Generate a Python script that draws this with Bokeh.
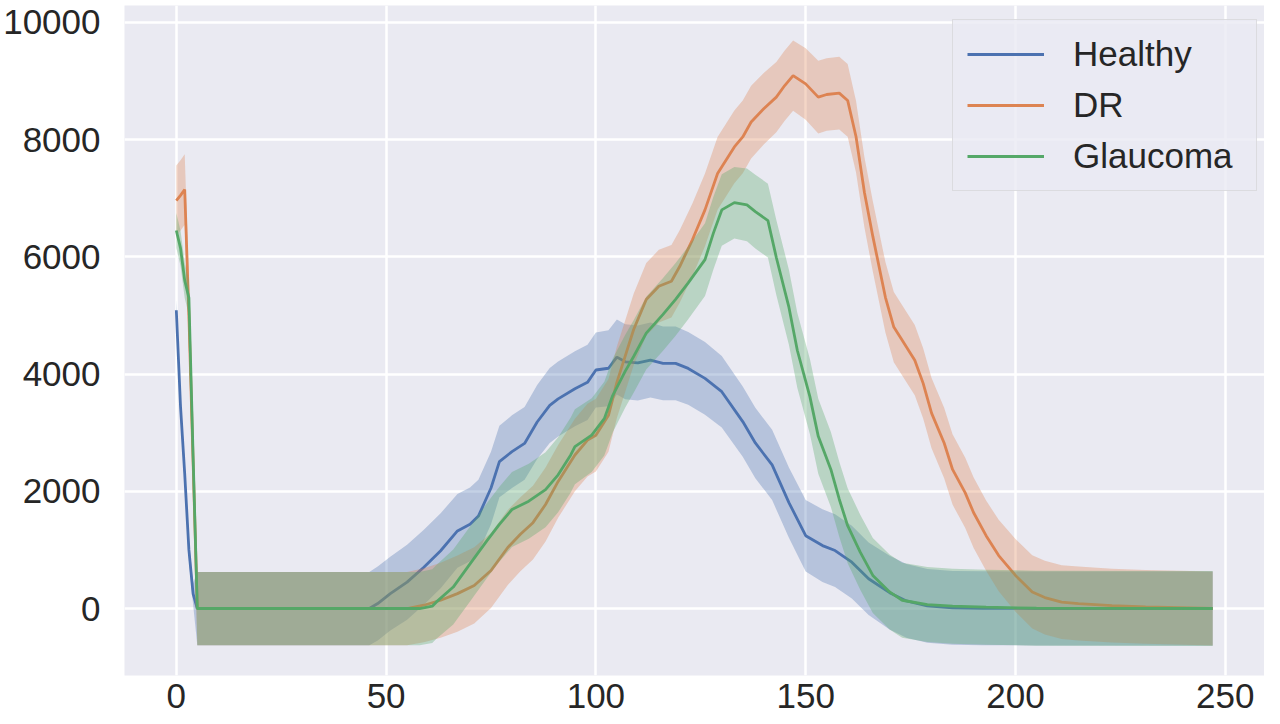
from bokeh.embed import file_html
from bokeh.models import Legend, LegendItem, Range1d, SingleIntervalTicker
from bokeh.plotting import figure
from bokeh.resources import INLINE

# mean curves (x = bin index), sd = half width of the shaded band
healthy_x = [0, 1, 2, 3, 4, 5, 30, 46, 48, 51, 55, 59, 63, 67, 70, 72, 75, 77, 80, 83, 86, 89, 91, 95, 98, 100,
             103, 105, 107, 110, 113, 116, 119, 122, 126, 130, 135, 138, 142, 146, 150, 154, 157, 161, 165, 170,
             174, 179, 185, 192, 205, 247]
healthy_y = [5090, 3450, 2300, 1000, 250, 0, 0, 0, 85, 254, 450, 704, 986, 1324, 1437, 1577, 2056, 2507, 2676, 2817,
             3183, 3465, 3577, 3750, 3859, 4070, 4100, 4290, 4210, 4190, 4240, 4183, 4183, 4097, 3927, 3700, 3190,
             2825, 2450, 1808, 1243, 1074, 989, 791, 508, 270, 130, 45, 11, 4, 0, 0]
healthy_sd = [180, 180, 180, 180, 180, 625, 625, 625, 630, 630, 640, 640, 640, 630, 630, 620, 620, 610, 620, 620,
              630, 640, 640, 640, 640, 640, 650, 640, 640, 640, 640, 630, 630, 620, 620, 610, 600, 600, 600, 600,
              610, 620, 620, 620, 620, 630, 630, 630, 630, 630, 630, 630]

dr_x = [0, 1, 2, 3, 4, 5, 30, 55, 59, 63, 67, 71, 75, 79, 82, 85, 88, 91, 95, 98, 100, 103, 105, 107, 109, 112,
        115, 118, 120, 123, 126, 129, 133, 135, 137, 140, 143, 145, 147, 150, 153, 155, 158, 160, 162, 164, 166,
        169, 171, 173, 176, 178, 180, 183, 185, 188, 190, 193, 196, 200, 204, 207, 211, 215, 223, 231, 247]
dr_y = [6960, 7050, 7150, 5000, 2500, 0, 0, 0, 56, 141, 254, 394, 648, 1042, 1268, 1465, 1775, 2169, 2620, 2873,
        2958, 3296, 3860, 4310, 4761, 5274, 5500, 5585, 5840, 6292, 6802, 7424, 7877, 8047, 8301, 8528, 8726,
        8924, 9094, 8952, 8726, 8771, 8794, 8670, 8050, 7100, 6350, 5311, 4803, 4577, 4238, 3842, 3334, 2825,
        2373, 1978, 1639, 1243, 904, 565, 283, 187, 110, 85, 50, 28, 0]
dr_sd = [600, 600, 600, 600, 600, 625, 625, 625, 630, 640, 650, 650, 640, 640, 630, 630, 630, 620, 620, 620,
         620, 620, 610, 610, 610, 620, 620, 620, 620, 620, 620, 620, 620, 620, 620, 610, 600, 600, 600, 610,
         620, 620, 620, 620, 610, 600, 600, 600, 600, 600, 600, 600, 600, 600, 600, 600, 600, 600, 610, 620,
         625, 630, 630, 630, 630, 630, 630]

glaucoma_x = [0, 1, 2, 3, 4, 5, 30, 58, 61, 62, 66, 70, 74, 77, 80, 84, 88, 91, 94, 95, 99, 102, 104, 107, 109,
              112, 116, 119, 122, 126, 128, 130, 133, 136, 138, 141, 143, 146, 148, 151, 153, 156, 158, 160, 163,
              166, 170, 173, 179, 185, 193, 205, 247]
glaucoma_y = [6450, 6150, 5600, 5300, 2600, 0, 0, 0, 40, 113, 366, 761, 1155, 1437, 1690, 1831, 2028, 2282, 2620,
              2761, 2958, 3240, 3634, 4050, 4300, 4700, 5019, 5274, 5557, 5953, 6406, 6802, 6926, 6887, 6773,
              6620, 5990, 5142, 4407, 3616, 2938, 2373, 1865, 1413, 961, 565, 283, 141, 68, 40, 23, 5, 0]
glaucoma_sd = [300, 300, 300, 300, 300, 625, 625, 625, 630, 630, 640, 640, 640, 640, 640, 640, 640, 640, 640, 640,
               630, 630, 630, 620, 620, 620, 620, 620, 620, 620, 620, 610, 610, 620, 630, 630, 640, 640, 640, 640,
               640, 640, 640, 640, 640, 640, 640, 640, 640, 640, 640, 640, 640]

series = [('Healthy', healthy_x, healthy_y, healthy_sd, '#4C72B0'),
          ('DR', dr_x, dr_y, dr_sd, '#DD8452'),
          ('Glaucoma', glaucoma_x, glaucoma_y, glaucoma_sd, '#55A868')]

FONT = 'Liberation Sans'
TEXT = '#262626'

p = figure(width=1264, height=716, output_backend='svg', toolbar_location=None,
           x_range=Range1d(-12.35, 259.35), y_range=Range1d(-1143, 10290),
           min_border_left=117, min_border_right=0, min_border_top=5, min_border_bottom=41)

items = []
for name, xs, ys, sd, color in series:
    # seaborn draws each line, then its band on top
    r = p.line(xs, ys, line_color=color, line_width=2.8)
    lower = [y - s for y, s in zip(ys, sd)]
    upper = [y + s for y, s in zip(ys, sd)]
    p.varea(x=xs, y1=lower, y2=upper, fill_color=color, fill_alpha=0.33)
    items.append(LegendItem(label=name, renderers=[r]))

p.background_fill_color = '#EAEAF2'
p.border_fill_color = 'white'
p.outline_line_color = None
p.grid.grid_line_color = 'white'
p.grid.grid_line_width = 2.5
p.xaxis.ticker = SingleIntervalTicker(interval=50)
p.yaxis.ticker = SingleIntervalTicker(interval=2000)
p.axis.axis_line_color = None
p.axis.major_tick_line_color = None
p.axis.minor_tick_line_color = None
p.axis.major_label_text_font = FONT
p.axis.major_label_text_font_size = '35px'
p.axis.major_label_text_color = TEXT
p.yaxis.major_label_standoff = 18
p.xaxis.major_label_standoff = 2

legend = Legend(items=items, location=(828, 484))
legend.label_text_font = FONT
legend.label_text_font_size = '35px'
legend.label_text_color = TEXT
legend.label_height = 40
legend.label_width = 169
legend.glyph_width = 77
legend.glyph_height = 40
legend.label_standoff = 29
legend.padding = 14
legend.spacing = 11
legend.border_line_color = '#cccccc'
legend.border_line_width = 1
legend.background_fill_color = '#EAEAF2'
legend.background_fill_alpha = 0.8
p.add_layout(legend)

open('out.html', 'w').write(file_html(p, INLINE))
